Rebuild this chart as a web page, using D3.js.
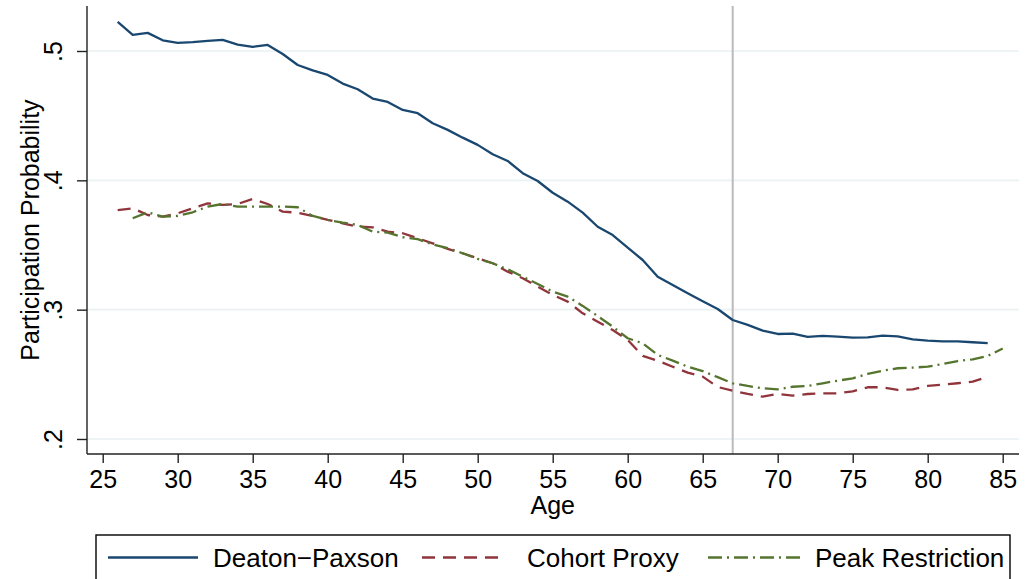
<!DOCTYPE html>
<html>
<head>
<meta charset="utf-8">
<script src="https://cdn.jsdelivr.net/npm/d3@7"></script>
<style>
  body { margin: 0; background: #fff; }
  svg { display: block; font-family: "Liberation Sans", Arial, sans-serif; }
</style>
</head>
<body>
<div id="chart"><svg id="d3chart"></svg></div>
<script>
// data
const ages = [26, 27, 28, 29, 30, 31, 32, 33, 34, 35, 36, 37, 38, 39, 40, 41, 42, 43, 44, 45,
  46, 47, 48, 49, 50, 51, 52, 53, 54, 55, 56, 57, 58, 59, 60, 61, 62, 63, 64, 65,
  66, 67, 68, 69, 70, 71, 72, 73, 74, 75, 76, 77, 78, 79, 80, 81, 82, 83, 84, 85];

const deatonPaxson = [.5225, .5125, .514, .5083, .5063, .5068, .5078, .5086, .505, .5032,
  .5047, .4977, .4892, .485, .4815, .4748, .4704, .4632, .4606, .4544,
  .4519, .4441, .439, .433, .4274, .4202, .415, .4055, .3995, .3904,
  .3835, .375, .3641, .3577, .3480, .3384, .3255, .3191, .3127, .3065,
  .3005, .292, .2882, .2838, .2812, .2814, .2789, .2797, .2791, .2784,
  .2786, .2799, .2794, .2771, .276, .2755, .2755, .2748, .2742, null];

const cohortProxy = [.3769, .3784, .3732, .3719, .3745, .3784, .3822, .381, .3817, .3856,
  .3817, .3758, .375, .3725, .3694, .3668, .3642, .3637, .3603, .3591,
  .3552, .3513, .347, .3436, .3398, .3359, .3294, .3243, .3178, .3114,
  .3062, .2972, .2907, .2843, .2766, .2642, .2606, .2559, .2513, .2482,
  .2402, .2374, .2348, .2327, .2348, .2335, .2348, .2353, .2353, .2369,
  .24, .24, .2379, .2384, .241, .242, .2431, .2443, .2482, null];

const peakRestriction = [null, .3707, .3753, .3719, .3725, .3753, .3797, .3817, .3797, .3797,
  .3797, .3797, .3792, .3725, .3694, .3673, .3655, .3603, .3596, .356,
  .3545, .3505, .3475, .3436, .3392, .3359, .3312, .3255, .3199, .3139,
  .3101, .3029, .2951, .2869, .2779, .274, .265, .2606, .2559, .2525,
  .2478, .2431, .241, .2392, .2384, .2404, .241, .2431, .2451, .2469,
  .2503, .2528, .2547, .2552, .2559, .258, .2603, .2616, .2642, .27];

const xTicks = [25, 30, 35, 40, 45, 50, 55, 60, 65, 70, 75, 80, 85];
const yTicks = [.2, .3, .4, .5];
const refAge = 67;

const seriesNames = ['Deaton\u2212Paxson', 'Cohort Proxy', 'Peak Restriction'];
const seriesColors = ['#1a476f', '#90353b', '#55752f'];
const seriesDash = [null, '13 8', '14 5 2 5'];

const W = 1030, H = 579;
const plot = { left: 87, right: 1019, top: 6, bottom: 454 };

const svg = d3.select('#d3chart')
  .attr('width', W)
  .attr('height', H);

svg.append('rect').attr('width', W).attr('height', H).attr('fill', '#fff');

const x = d3.scaleLinear().domain([25, 85]).range([102.7, 1002.7]);
const y = d3.scaleLinear().domain([.2, .5]).range([439, 51]);

// gridlines
svg.append('g')
  .selectAll('line')
  .data(yTicks)
  .enter()
  .append('line')
    .attr('x1', plot.left).attr('x2', plot.right)
    .attr('y1', d => y(d)).attr('y2', d => y(d))
    .attr('stroke', '#eaf1f3')
    .attr('stroke-width', 1.6);

// reference line at age 67
svg.append('line')
  .attr('x1', x(refAge)).attr('x2', x(refAge))
  .attr('y1', plot.top).attr('y2', plot.bottom)
  .attr('stroke', '#bababa')
  .attr('stroke-width', 2);

// lines
const series = [deatonPaxson, cohortProxy, peakRestriction];
series.forEach((vals, i) => {
  const pts = ages.map((a, j) => ({ age: a, v: vals[j] }));
  svg.append('path')
    .datum(pts)
    .attr('fill', 'none')
    .attr('stroke', seriesColors[i])
    .attr('stroke-width', 2.3)
    .attr('stroke-dasharray', seriesDash[i])
    .attr('stroke-linejoin', 'round')
    .attr('d', d3.line()
      .defined(d => d.v != null)
      .x(d => x(d.age))
      .y(d => y(d.v)));
});

// x axis
const xAxis = svg.append('g')
  .attr('transform', 'translate(0,' + plot.bottom + ')')
  .call(d3.axisBottom(x).tickValues(xTicks).tickSize(9).tickPadding(7).tickFormat(d3.format('d')));
xAxis.select('.domain').remove();
xAxis.selectAll('line').attr('stroke', '#222').attr('stroke-width', 1.4);
xAxis.selectAll('text')
  .style('font-family', '"Liberation Sans", Arial, sans-serif')
  .style('font-size', '25px')
  .attr('fill', '#000');

// y axis
const fmtY = v => d3.format('.1f')(v).replace(/^0/, '');
const yAxis = svg.append('g')
  .attr('transform', 'translate(' + plot.left + ',0)')
  .call(d3.axisLeft(y).tickValues(yTicks).tickSize(10).tickFormat(fmtY));
yAxis.select('.domain').remove();
yAxis.selectAll('line').attr('stroke', '#222').attr('stroke-width', 1.4);
yAxis.selectAll('text')
  .attr('x', null)
  .attr('dy', null)
  .attr('text-anchor', 'middle')
  .attr('transform', 'translate(-25,0) rotate(-90)')
  .style('font-family', '"Liberation Sans", Arial, sans-serif')
  .style('font-size', '25px')
  .attr('fill', '#000');

// axis lines
svg.append('line')
  .attr('x1', plot.left).attr('x2', plot.right)
  .attr('y1', plot.bottom).attr('y2', plot.bottom)
  .attr('stroke', '#222').attr('stroke-width', 1.4);
svg.append('line')
  .attr('x1', plot.left).attr('x2', plot.left)
  .attr('y1', plot.top).attr('y2', plot.bottom)
  .attr('stroke', '#222').attr('stroke-width', 1.4);

// axis titles
svg.append('text')
  .attr('x', (x(25) + x(85)) / 2)
  .attr('y', 514)
  .attr('text-anchor', 'middle')
  .style('font-size', '25px')
  .text('Age');

svg.append('text')
  .attr('transform', 'translate(39,' + ((plot.top + plot.bottom) / 2) + ') rotate(-90)')
  .attr('text-anchor', 'middle')
  .style('font-size', '25px')
  .text('Participation Probability');

// legend
const legend = svg.append('g');
legend.append('rect')
  .attr('x', 96).attr('y', 535)
  .attr('width', 914).attr('height', 70)
  .attr('fill', '#fff')
  .attr('stroke', '#000')
  .attr('stroke-width', 1.4);

const legendPos = [
  { x1: 108, x2: 198, tx: 213 },
  { x1: 422, x2: 506, tx: 527 },
  { x1: 708, x2: 801, tx: 815 }
];
legendPos.forEach((p, i) => {
  legend.append('line')
    .attr('x1', p.x1).attr('x2', p.x2)
    .attr('y1', 557.5).attr('y2', 557.5)
    .attr('stroke', seriesColors[i])
    .attr('stroke-width', 2.3)
    .attr('stroke-dasharray', seriesDash[i]);
  legend.append('text')
    .attr('x', p.tx).attr('y', 567)
    .style('font-size', '26px')
    .text(seriesNames[i]);
});
</script>
</body>
</html>
